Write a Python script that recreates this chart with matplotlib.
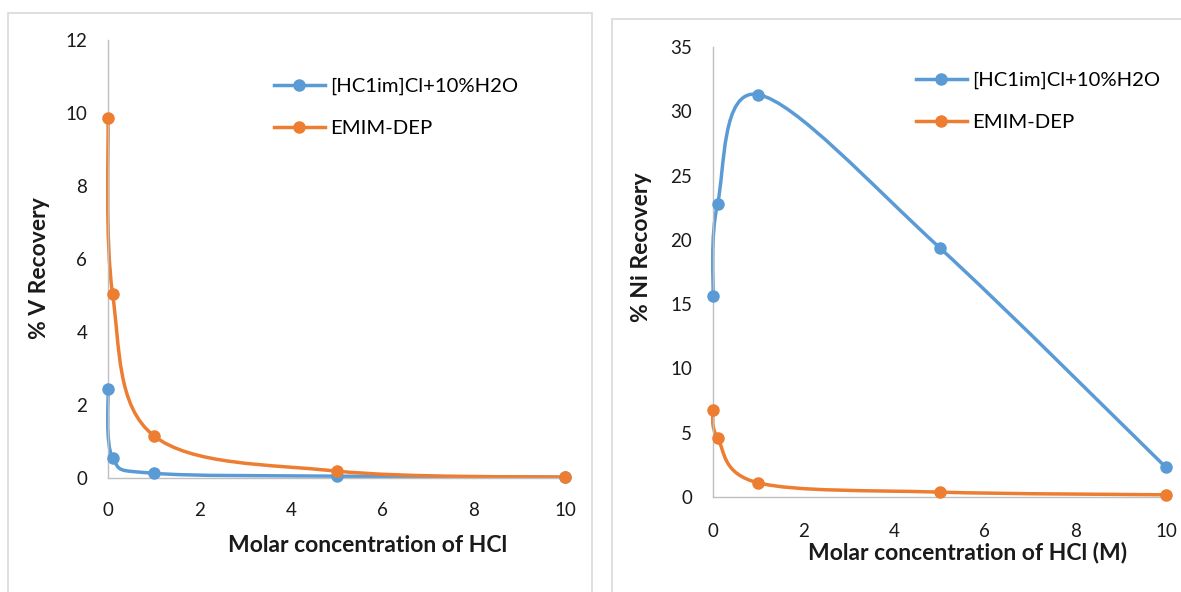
import matplotlib
matplotlib.use("Agg")
import matplotlib.pyplot as plt
from matplotlib.path import Path
from matplotlib.patches import PathPatch, Rectangle
from matplotlib.lines import Line2D

plt.rcParams['font.family'] = ['Lato', 'DejaVu Sans']

# data
hcl = [0, 0.1, 1, 5, 10]
series_names = ['[HC1im]Cl+10%H2O', 'EMIM-DEP']

v_hc1im = [2.45, 0.55, 0.13, 0.05, 0.02]
v_emim = [9.85, 5.04, 1.16, 0.19, 0.02]

ni_hc1im = [15.6, 22.8, 31.3, 19.4, 2.3]
ni_emim = [6.8, 4.6, 1.1, 0.38, 0.17]

blue = '#5B9BD5'
orange = '#ED7D31'
axis_grey = '#BFBFBF'
frame_grey = '#D9D9D9'
text_col = '#1a1a1a'


def smooth_path(xs, ys):
    # Excel-style smoothed line: Catmull-Rom turned into cubic Beziers
    pts = list(zip(xs, ys))
    n = len(pts)
    verts = [pts[0]]
    codes = [Path.MOVETO]
    for i in range(n - 1):
        p0 = pts[i - 1] if i > 0 else pts[i]
        p1 = pts[i]
        p2 = pts[i + 1]
        p3 = pts[i + 2] if i + 2 < n else pts[i + 1]
        c1 = (p1[0] + (p2[0] - p0[0]) / 6, p1[1] + (p2[1] - p0[1]) / 6)
        c2 = (p2[0] - (p3[0] - p1[0]) / 6, p2[1] - (p3[1] - p1[1]) / 6)
        verts += [c1, c2, p2]
        codes += [Path.CURVE4] * 3
    return Path(verts, codes)


def draw_panel(ax, ys_list, ymax, ystep, ylabel, xlabel, xlab_pos, ylab_pos, xpad):
    handles = []
    for ys, col, name in zip(ys_list, [blue, orange], series_names):
        patch = PathPatch(smooth_path(hcl, ys), facecolor='none', edgecolor=col,
                          lw=2.5, clip_on=False, capstyle='round')
        ax.add_patch(patch)
        ax.plot(hcl, ys, 'o', color=col, ms=8, clip_on=False, zorder=3)
        handles.append(Line2D([], [], color=col, lw=2.5, marker='o', ms=8, label=name))
    ax.set_xlim(0, 10)
    ax.set_ylim(0, ymax)
    ax.set_xticks(range(0, 11, 2))
    ax.set_yticks(range(0, ymax + 1, ystep))
    for s in ['top', 'right']:
        ax.spines[s].set_visible(False)
    for s in ['left', 'bottom']:
        ax.spines[s].set_color(axis_grey)
        ax.spines[s].set_linewidth(1)
    ax.tick_params(axis='y', length=0, pad=15, labelsize=13.5, labelcolor=text_col)
    ax.tick_params(axis='x', length=0, pad=xpad, labelsize=13.5, labelcolor=text_col)
    ax.set_xlabel(xlabel, fontsize=16.5, fontweight='bold', color=text_col)
    ax.set_ylabel(ylabel, fontsize=16.5, fontweight='bold', color=text_col)
    ax.xaxis.set_label_coords(*xlab_pos)
    ax.yaxis.set_label_coords(*ylab_pos)
    return handles


fig = plt.figure(figsize=(11.81, 5.92), dpi=100)
W, H = 1181, 592

# chart frames
fig.patches.append(Rectangle((8 / W, -0.01), 584 / W, 1.01 - 13 / H, transform=fig.transFigure,
                             fill=False, edgecolor=frame_grey, lw=1.2))
fig.patches.append(Rectangle((612 / W, -0.01), 0.5, 1.01 - 19 / H, transform=fig.transFigure,
                             fill=False, edgecolor=frame_grey, lw=1.2))

ax1 = fig.add_axes([108 / W, 1 - 478 / H, 457 / W, 438 / H])
h1 = draw_panel(ax1, [v_hc1im, v_emim], 12, 2, '% V Recovery',
                'Molar concentration of HCl', (0.567, -0.130), (-0.127, 0.479), 17)
ax1.legend(handles=h1, loc='upper left', bbox_to_anchor=(274 / W, 1 - 78 / H),
           bbox_transform=fig.transFigure, frameon=False, fontsize=14.6,
           handlelength=2.5, handletextpad=0.25, labelspacing=1.2,
           borderpad=0, borderaxespad=0)

ax2 = fig.add_axes([713 / W, 1 - 497 / H, 453 / W, 450 / H])
h2 = draw_panel(ax2, [ni_hc1im, ni_emim], 35, 5, '% Ni Recovery',
                'Molar concentration of HCl (M)', (0.561, -0.100), (-0.135, 0.556), 19)
ax2.legend(handles=h2, loc='upper left', bbox_to_anchor=(916 / W, 1 - 72 / H),
           bbox_transform=fig.transFigure, frameon=False, fontsize=14.6,
           handlelength=2.5, handletextpad=0.25, labelspacing=1.2,
           borderpad=0, borderaxespad=0)

fig.savefig('out.png', dpi=100)
